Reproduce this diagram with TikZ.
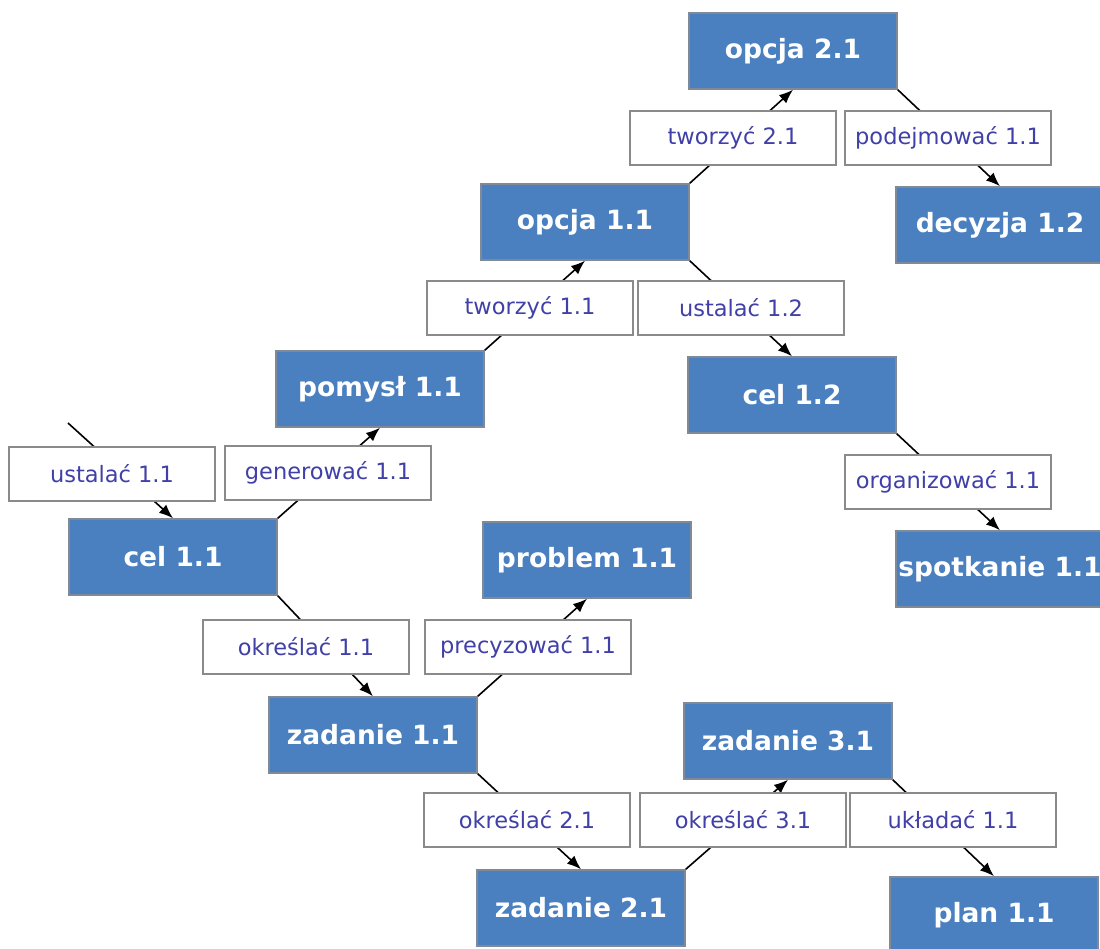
\documentclass[tikz,border=0pt]{standalone}
\usepackage{fontspec}
\setmainfont{DejaVu Sans}
\usetikzlibrary{arrows.meta}
\definecolor{boxblue}{HTML}{4A80C0}
\definecolor{boxedge}{HTML}{7F8A96}
\definecolor{lblblue}{HTML}{4040A8}
\definecolor{lbledge}{HTML}{8A8A8A}
\begin{document}
\begin{tikzpicture}[x=1pt,y=-1pt,
  concept/.style={draw=boxedge,line width=1.5pt,fill=boxblue,text=white,
    minimum width=208pt,minimum height=76pt,inner sep=0pt,
    font=\fontsize{26.5}{31}\selectfont\bfseries},
  rel/.style={draw=lbledge,line width=1.5pt,fill=white,text=lblblue,
    minimum width=206pt,minimum height=54pt,inner sep=0pt,
    font=\fontsize{22.5}{27}\selectfont},
  link/.style={line width=1.6pt,-{Latex[length=14pt,width=11pt]}}]
\useasboundingbox (0,0) rectangle (1100,949);
% concept boxes
\node[concept] (o21) at (793,51) {opcja 2.1};
\node[concept] (d12) at (1000,225) {decyzja 1.2};
\node[concept] (o11) at (585,222) {opcja 1.1};
\node[concept] (p11) at (380,389) {pomysł 1.1};
\node[concept] (c12) at (792,395) {cel 1.2};
\node[concept] (c11) at (173,557) {cel 1.1};
\node[concept] (pr11) at (587,560) {problem 1.1};
\node[concept] (s11) at (1000,569) {spotkanie 1.1};
\node[concept] (z11) at (373,735) {zadanie 1.1};
\node[concept] (z31) at (788,741) {zadanie 3.1};
\node[concept] (z21) at (581,908) {zadanie 2.1};
\node[concept] (pl11) at (994,915) {plan 1.1};
\coordinate (in) at (68,423);
% connectors
\draw[link] (in) -- (c11.north);
\draw[link] (c11.north east) -- (p11.south);
\draw[link] (p11.north east) -- (o11.south);
\draw[link] (o11.north east) -- (o21.south);
\draw[link] (o21.south east) -- (d12.north);
\draw[link] (o11.south east) -- (c12.north);
\draw[link] (c12.south east) -- (s11.north);
\draw[link] (c11.south east) -- (z11.north);
\draw[link] (z11.north east) -- (pr11.south);
\draw[link] (z11.south east) -- (z21.north);
\draw[link] (z21.north east) -- (z31.south);
\draw[link] (z31.south east) -- (pl11.north);
% relation labels
\node[rel] (t21) at (733,138) {tworzyć 2.1};
\node[rel] (pd11) at (948,138) {podejmować 1.1};
\node[rel] (t11) at (530,308) {tworzyć 1.1};
\node[rel] (u12) at (741,308) {ustalać 1.2};
\node[rel] (u11) at (112,474) {ustalać 1.1};
\node[rel] (g11) at (328,473) {generować 1.1};
\node[rel] (org) at (948,482) {organizować 1.1};
\node[rel] (ok11) at (306,647) {określać 1.1};
\node[rel] (prc) at (528,647) {precyzować 1.1};
\node[rel] (ok21) at (527,820) {określać 2.1};
\node[rel] (ok31) at (743,820) {określać 3.1};
\node[rel] (uk) at (953,820) {układać 1.1};
\end{tikzpicture}
\end{document}
